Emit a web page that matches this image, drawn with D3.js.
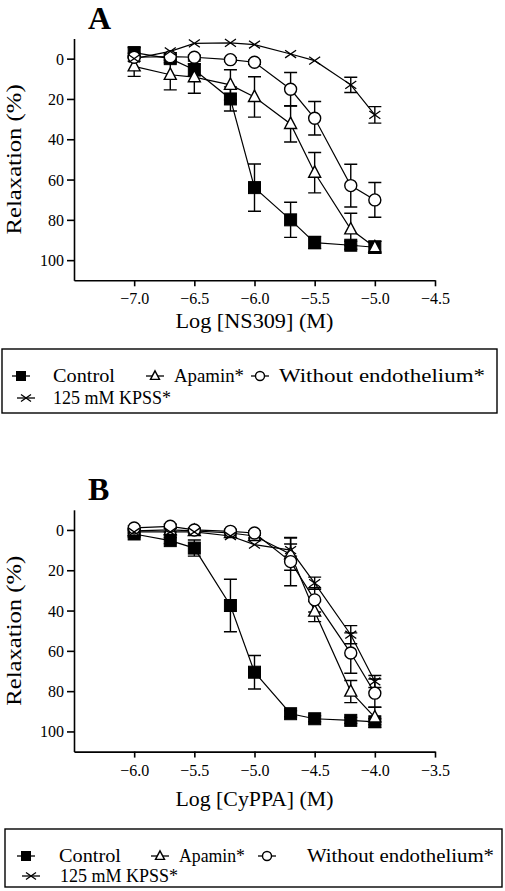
<!DOCTYPE html>
<html>
<head>
<meta charset="utf-8">
<script src="https://cdn.jsdelivr.net/npm/d3@7"></script>
<style>
  html, body { margin: 0; padding: 0; background: #fff; }
  svg { display: block; }
  text { font-family: "Liberation Serif", "Times New Roman", serif; fill: #000; }
</style>
</head>
<body>
<svg id="chart" width="505" height="891"></svg>
<script>
// ---------- DATA ----------
const seriesNames = ["Control", "Apamin*", "Without endothelium*", "125 mM KPSS*"];
const yTicks = [0, 20, 40, 60, 80, 100];

// Panel A : NS309
const nsX = [-7.0, -6.7, -6.5, -6.2, -6.0, -5.7, -5.5, -5.2, -5.0];
const nsXTicks = [-7.0, -6.5, -6.0, -5.5, -5.0, -4.5];
const nsControl    = [-3.0, 0.0, 5.5, 20.0, 64.0, 80.0, 91.3, 92.6, 93.6];
const nsControlErr = [2.5, 2.0, 3.0, 6.0, 11.7, 8.7, 3.0, 2.0, 3.0];
const nsApamin     = [3.8, 8.0, 9.2, 13.0, 19.0, 32.4, 56.6, 84.7, 93.6];
const nsApaminErr  = [5.0, 7.5, 8.0, 7.5, 10.0, 9.0, 10.0, 8.0, 3.0];
const nsNoEndo     = [-0.7, -1.0, -0.7, 0.5, 1.8, 15.2, 29.6, 63.0, 70.1];
const nsNoEndoErr  = [2.0, 2.0, 1.0, 1.0, 1.0, 8.3, 8.3, 10.6, 8.6];
const nsKpss       = [0.0, -3.6, -7.6, -7.8, -7.0, -2.3, 1.0, 13.0, 27.9];
const nsKpssErr    = [0, 0, 0, 0, 0, 0, 0, 3.8, 4.1];

// Panel B : CyPPA
const cyX = [-6.0, -5.7, -5.5, -5.2, -5.0, -4.7, -4.5, -4.2, -4.0];
const cyXTicks = [-6.0, -5.5, -5.0, -4.5, -4.0, -3.5];
const cyControl    = [2.0, 5.3, 9.0, 37.5, 70.6, 91.2, 93.7, 94.5, 95.2];
const cyControlErr = [1.5, 1.5, 4.0, 13.0, 8.3, 1.5, 1.5, 1.5, 1.5];
const cyApamin     = [0.5, 0.0, 0.5, 1.5, 3.0, 12.0, 40.5, 80.2, 93.0];
const cyApaminErr  = [1.0, 1.0, 1.0, 1.0, 1.0, 8.0, 5.0, 5.5, 5.0];
const cyNoEndo     = [-1.0, -1.8, 0.0, 0.7, 1.5, 15.7, 34.7, 61.1, 81.0];
const cyNoEndoErr  = [1.0, 1.0, 1.0, 1.0, 1.0, 12.0, 6.0, 10.0, 7.0];
const cyKpss       = [1.0, 1.0, 1.0, 3.0, 7.3, 10.0, 26.4, 52.0, 75.2];
const cyKpssErr    = [0, 0, 0, 0, 0, 3.0, 3.0, 4.5, 3.0];

// ---------- DRAW ----------
const svg = d3.select("#chart");
const markerTypes = ["square", "triangle", "circle", "cross"];

function drawMarker(g, type, x, y, s) {
  if (type === "square") {
    g.append("rect").attr("x", x - s / 2).attr("y", y - s / 2).attr("width", s).attr("height", s)
      .attr("fill", "#000").attr("stroke", "#000").attr("stroke-width", 1);
  } else if (type === "triangle") {
    const h = s * 0.95;
    g.append("path")
      .attr("d", `M${x},${y - h * 0.6}L${x + s / 2},${y + h * 0.4}L${x - s / 2},${y + h * 0.4}Z`)
      .attr("fill", "#fff").attr("stroke", "#000").attr("stroke-width", 1.4);
  } else if (type === "circle") {
    g.append("circle").attr("cx", x).attr("cy", y).attr("r", s / 2)
      .attr("fill", "#fff").attr("stroke", "#000").attr("stroke-width", 1.4);
  } else {
    const d = s / 2;
    g.append("path").attr("d", `M${x - d},${y - d * 0.7}L${x + d},${y + d * 0.7}M${x - d},${y + d * 0.7}L${x + d},${y - d * 0.7}`)
      .attr("fill", "none").attr("stroke", "#000").attr("stroke-width", 1.3);
  }
}

function drawPanel(cfg) {
  const g = svg.append("g");
  const x = d3.scaleLinear().domain(cfg.xDomain).range([74, 435]);
  const y = d3.scaleLinear().domain([-10, 110]).range([cfg.top, cfg.top + 241.8]);

  // panel letter
  g.append("text").attr("x", 88).attr("y", cfg.top - 10).attr("font-size", 32)
    .attr("font-weight", "bold").text(cfg.letter);

  // axes
  const yAxis = d3.axisLeft(y).tickValues(yTicks).tickSize(7).tickSizeOuter(0).tickPadding(3);
  const xAxis = d3.axisBottom(x).tickValues(cfg.xTicks).tickSize(6).tickSizeOuter(0).tickPadding(3)
    .tickFormat(d3.format(".1f"));
  const ya = g.append("g").attr("transform", "translate(74,0)").call(yAxis);
  const xa = g.append("g").attr("transform", `translate(0,${y(110)})`).call(xAxis);
  [ya, xa].forEach(a => {
    a.attr("font-family", null);
    a.selectAll("path, line").attr("stroke", "#000").attr("stroke-width", 1.6);
    a.selectAll("text").attr("font-size", 16).attr("fill", "#000");
  });
  ya.selectAll("text").attr("dy", "0.34em");
  xa.selectAll("text").attr("dy", "0.95em");

  // axis titles
  const ymid = (y(-10) + y(110)) / 2;
  g.append("text").attr("transform", `translate(21,${ymid}) rotate(-90)`).attr("text-anchor", "middle")
    .attr("font-size", 20).attr("textLength", 150).attr("lengthAdjust", "spacingAndGlyphs").text("Relaxation (%)");
  g.append("text").attr("x", 254.5).attr("y", y(110) + cfg.xTitleDy).attr("text-anchor", "middle")
    .attr("font-size", 20).attr("textLength", 158).attr("lengthAdjust", "spacingAndGlyphs").text(cfg.xTitle);

  // lines + error bars
  const line = d3.line().x(d => x(d[0])).y(d => y(d[1]));
  cfg.series.forEach(s => {
    const pts = cfg.xs.map((xv, i) => [xv, s.v[i]]);
    g.append("path").attr("d", line(pts)).attr("fill", "none").attr("stroke", "#000").attr("stroke-width", 1.2);
  });
  cfg.series.forEach(s => {
    cfg.xs.forEach((xv, i) => {
      const e = s.e[i];
      if (!e) return;
      const cx = x(xv), y1 = y(s.v[i] - e), y2 = y(s.v[i] + e);
      g.append("path").attr("d", `M${cx},${y1}V${y2}M${cx - 6.5},${y1}H${cx + 6.5}M${cx - 6.5},${y2}H${cx + 6.5}`)
        .attr("fill", "none").attr("stroke", "#000").attr("stroke-width", 1.4);
    });
  });
  // markers
  cfg.series.forEach((s, k) => {
    cfg.xs.forEach((xv, i) => drawMarker(g, markerTypes[k], x(xv), y(s.v[i]), k === 3 ? 11 : 12));
  });

  // legend
  const L = cfg.legend;
  g.append("rect").attr("x", L.x0).attr("y", L.y0).attr("width", L.x1 - L.x0).attr("height", L.y1 - L.y0)
    .attr("fill", "#fff").attr("stroke", "#000").attr("stroke-width", 1.4);
  L.items.forEach((it, k) => {
    g.append("line").attr("x1", it.mx - 9).attr("x2", it.mx + 9).attr("y1", it.y).attr("y2", it.y)
      .attr("stroke", "#000").attr("stroke-width", 1.3);
    drawMarker(g, markerTypes[k], it.mx, it.y, k === 3 ? 10 : 9);
    const t = g.append("text").attr("x", it.tx).attr("y", it.y + 6).attr("font-size", 18).text(seriesNames[k]);
    if (it.tw) t.attr("textLength", it.tw).attr("lengthAdjust", "spacingAndGlyphs");
  });
}

drawPanel({
  letter: "A", top: 38.5, xDomain: [-7.5, -4.5], xTicks: nsXTicks, xs: nsX,
  xTitle: "Log [NS309] (M)", xTitleDy: 48,
  series: [
    { v: nsControl, e: nsControlErr },
    { v: nsApamin, e: nsApaminErr },
    { v: nsNoEndo, e: nsNoEndoErr },
    { v: nsKpss, e: nsKpssErr }
  ],
  legend: { x0: 2, y0: 349, x1: 497, y1: 413, items: [
    { mx: 21, y: 376, tx: 53, tw: 62 },
    { mx: 155, y: 376, tx: 174, tw: 70 },
    { mx: 260, y: 376, tx: 279, tw: 206 },
    { mx: 26, y: 398, tx: 53, tw: 0 }
  ] }
});

drawPanel({
  letter: "B", top: 509.8, xDomain: [-6.5, -3.5], xTicks: cyXTicks, xs: cyX,
  xTitle: "Log [CyPPA] (M)", xTitleDy: 54,
  series: [
    { v: cyControl, e: cyControlErr },
    { v: cyApamin, e: cyApaminErr },
    { v: cyNoEndo, e: cyNoEndoErr },
    { v: cyKpss, e: cyKpssErr }
  ],
  legend: { x0: 5, y0: 829, x1: 502, y1: 887, items: [
    { mx: 26, y: 856, tx: 59, tw: 62 },
    { mx: 160, y: 856, tx: 179, tw: 66 },
    { mx: 267, y: 856, tx: 307, tw: 187 },
    { mx: 31, y: 876, tx: 60, tw: 0 }
  ] }
});
</script>
</body>
</html>
